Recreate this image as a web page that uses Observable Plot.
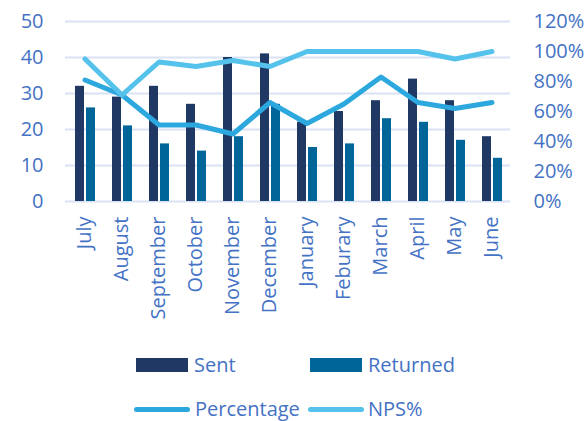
<!DOCTYPE html>
<html>
<head>
<meta charset="utf-8">
<script src="https://cdn.jsdelivr.net/npm/d3@7"></script>
<script src="https://cdn.jsdelivr.net/npm/@observablehq/plot@0.6"></script>
<style>
  html, body { margin: 0; padding: 0; background: #fff; }
  #wrap { position: relative; width: 587px; height: 421px; overflow: hidden; font-family: "Open Sans", sans-serif; color: #4472C4; }
  .leg { position: absolute; font-size: 20px; line-height: 20px; white-space: nowrap; }
  .sw { position: absolute; }
</style>
</head>
<body>
<div id="wrap"></div>
<script>
const months = ["July","August","September","October","November","December","January","Feburary","March","April","May","June"];
const sent = [32,29,32,27,40,41,22,25,28,34,28,18];
const returned = [26,21,16,14,18,27,15,16,23,22,17,12];
const percentage = [81,71,51,51,45,66,52,65,83,66,62,66];
const nps = [95,71,93,90,94,90,100,100,100,100,95,100];
const leftTicks = [0,10,20,30,40,50];
const rightTicks = [0,20,40,60,80,100,120];

const rows = months.map((m, i) => ({month: m, sent: sent[i], returned: returned[i], pct: percentage[i], nps: nps[i]}));
const toLeft = v => v * 50 / 120;
const textColor = "#4472C4";

const chart = Plot.plot({
  width: 587,
  height: 345,
  marginLeft: 65,
  marginRight: 77,
  marginTop: 21,
  marginBottom: 144,
  style: {fontFamily: "Open Sans", fontSize: "20px", background: "white", overflow: "visible"},
  x: {domain: months, padding: 0, axis: null},
  y: {domain: [0, 50], axis: null},
  marks: [
    Plot.ruleY(leftTicks, {stroke: "#D9E1F2", strokeWidth: 2}),
    Plot.barY(rows, {x: "month", y: "sent", fill: "#203864", insetLeft: 9, insetRight: 19}),
    Plot.barY(rows, {x: "month", y: "returned", fill: "#00669A", insetLeft: 20, insetRight: 8}),
    Plot.lineY(rows, {x: "month", y: d => toLeft(d.pct), stroke: "#2CA8DE", strokeWidth: 5, strokeLinejoin: "round"}),
    Plot.lineY(rows, {x: "month", y: d => toLeft(d.nps), stroke: "#55C2EC", strokeWidth: 5, strokeLinejoin: "round"}),
    Plot.axisY(leftTicks, {anchor: "left", tickSize: 0, tickPadding: 22, fontSize: 20, fill: textColor, label: null}),
    Plot.axisY(rightTicks.map(toLeft), {anchor: "right", tickSize: 0, tickPadding: 23, fontSize: 20, fill: textColor, label: null,
      tickFormat: d => Math.round(d * 120 / 50) + "%"}),
    Plot.axisX(months, {tickRotate: -90, tickSize: 0, tickPadding: 15, fontSize: 20, fill: textColor, label: null})
  ]
});

const wrap = document.getElementById("wrap");
wrap.appendChild(chart);

const legendItems = [
  {label: "Sent", type: "rect", color: "#203864", x: 136, y: 358, tx: 194, ty: 355},
  {label: "Returned", type: "rect", color: "#00669A", x: 310, y: 358, tx: 368, ty: 355},
  {label: "Percentage", type: "line", color: "#2CA8DE", x: 134, y: 407, tx: 195, ty: 399},
  {label: "NPS%", type: "line", color: "#55C2EC", x: 308, y: 407, tx: 368, ty: 399}
];
for (const it of legendItems) {
  const sw = document.createElement("div");
  sw.className = "sw";
  sw.style.left = it.x + "px";
  sw.style.top = it.y + "px";
  sw.style.background = it.color;
  if (it.type === "rect") { sw.style.width = "52px"; sw.style.height = "14px"; }
  else { sw.style.width = "56px"; sw.style.height = "5px"; sw.style.borderRadius = "3px"; }
  wrap.appendChild(sw);
  const t = document.createElement("div");
  t.className = "leg";
  t.style.left = it.tx + "px";
  t.style.top = it.ty + "px";
  t.textContent = it.label;
  wrap.appendChild(t);
}
</script>
</body>
</html>
